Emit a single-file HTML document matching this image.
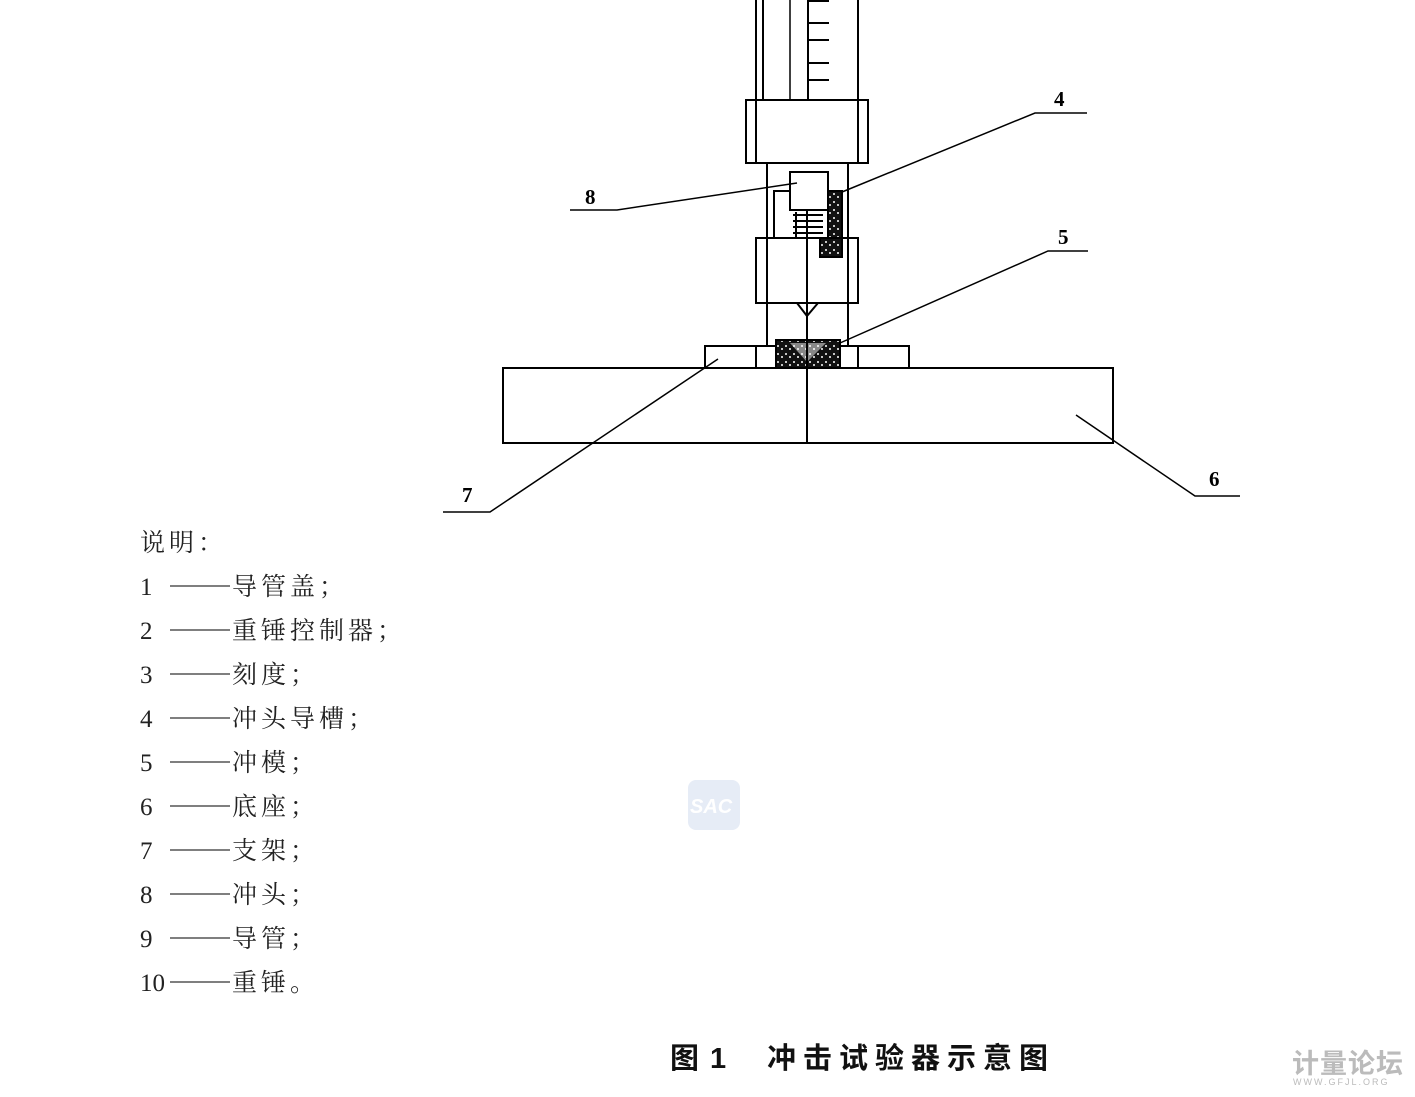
<!DOCTYPE html>
<html><head><meta charset="utf-8"><style>
html,body{margin:0;padding:0;background:#fff;width:1415px;height:1097px;overflow:hidden}
svg{display:block}
.s{font-family:"Liberation Serif","Noto Serif CJK SC",serif;font-size:25px;fill:#222}
.c{font-family:"Liberation Sans","Noto Sans CJK SC",sans-serif;font-size:29px;font-weight:bold;fill:#111}
.n{font-family:"Liberation Serif","Noto Serif CJK SC",serif;font-size:21px;fill:#000;font-weight:bold}
</style></head><body>
<svg width="1415" height="1097" viewBox="0 0 1415 1097" xmlns="http://www.w3.org/2000/svg">
<defs>
<pattern id="dots" width="8" height="8" patternUnits="userSpaceOnUse">
<rect width="8" height="8" fill="#111"/><circle cx="2" cy="2" r="1" fill="#fff"/><circle cx="6" cy="5" r="1" fill="#fff"/>
</pattern>
</defs>
<g stroke="#000" stroke-width="2" fill="none">
<line x1="756" y1="0" x2="756" y2="100"/>
<line x1="763" y1="0" x2="763" y2="100"/>
<line x1="790" y1="0" x2="790" y2="100" stroke-width="1.5"/>
<line x1="808" y1="0" x2="808" y2="100"/>
<line x1="858" y1="0" x2="858" y2="100"/>
<line x1="808" y1="1" x2="829" y2="1"/>
<line x1="808" y1="23" x2="829" y2="23"/>
<line x1="808" y1="40" x2="829" y2="40"/>
<line x1="808" y1="63" x2="829" y2="63"/>
<line x1="808" y1="80" x2="829" y2="80"/>
<rect x="746" y="100" width="122" height="63"/>
<line x1="756" y1="100" x2="756" y2="163"/>
<line x1="858" y1="100" x2="858" y2="163"/>
<line x1="767" y1="163" x2="767" y2="346"/>
<line x1="848" y1="163" x2="848" y2="346"/>
<rect x="790" y="172" width="38" height="38"/>
<polyline points="774,238 774,191 790,191"/>
<rect x="828" y="191" width="14" height="47" fill="url(#dots)"/>
<rect x="820" y="238" width="22" height="19" fill="url(#dots)"/>
<g stroke-width="2">
<line x1="793" y1="215" x2="823" y2="215"/>
<line x1="793" y1="221" x2="823" y2="221"/>
<line x1="793" y1="227" x2="823" y2="227"/>
<line x1="793" y1="233" x2="823" y2="233"/>
<line x1="796" y1="212" x2="796" y2="238"/>
</g>
<rect x="756" y="238" width="102" height="65"/>
<line x1="767" y1="238" x2="767" y2="303"/>
<polyline points="797,303 807,316 818,303"/>
<rect x="705" y="346" width="204" height="22"/>
<line x1="756" y1="346" x2="756" y2="368"/>
<line x1="858" y1="346" x2="858" y2="368"/>
<rect x="776" y="340" width="64" height="28" fill="url(#dots)"/>
<polygon points="790,343 807,362 826,343" fill="#fff" stroke="none" opacity="0.5"/>
<rect x="503" y="368" width="610" height="75"/>
<line x1="807" y1="210" x2="807" y2="443"/>
</g>
<g stroke="#000" stroke-width="1.5" fill="none">
<polyline points="570,210 617,210 797,183"/>
<polyline points="1087,113 1035,113 842,192"/>
<polyline points="1088,251 1048,251 840,343"/>
<polyline points="443,512 490,512 718,359"/>
<polyline points="1240,496 1195,496 1076,415"/>
</g>
<text class="n" x="585" y="204">8</text>
<text class="n" x="1054" y="106">4</text>
<text class="n" x="1058" y="244">5</text>
<text class="n" x="462" y="502">7</text>
<text class="n" x="1209" y="486">6</text>
<g class="s" letter-spacing="4">
<text x="140" y="551">说明：</text>
<text x="140" y="595">1</text><text x="232" y="595">导管盖；</text>
<text x="140" y="639">2</text><text x="232" y="639">重锤控制器；</text>
<text x="140" y="683">3</text><text x="232" y="683">刻度；</text>
<text x="140" y="727">4</text><text x="232" y="727">冲头导槽；</text>
<text x="140" y="771">5</text><text x="232" y="771">冲模；</text>
<text x="140" y="815">6</text><text x="232" y="815">底座；</text>
<text x="140" y="859">7</text><text x="232" y="859">支架；</text>
<text x="140" y="903">8</text><text x="232" y="903">冲头；</text>
<text x="140" y="947">9</text><text x="232" y="947">导管；</text>
<text x="140" y="991" letter-spacing="0">10</text><text x="232" y="991">重锤。</text>
</g>
<g stroke="#333" stroke-width="1.3">
<line x1="170" y1="586" x2="230" y2="586"/>
<line x1="170" y1="630" x2="230" y2="630"/>
<line x1="170" y1="674" x2="230" y2="674"/>
<line x1="170" y1="718" x2="230" y2="718"/>
<line x1="170" y1="762" x2="230" y2="762"/>
<line x1="170" y1="806" x2="230" y2="806"/>
<line x1="170" y1="850" x2="230" y2="850"/>
<line x1="170" y1="894" x2="230" y2="894"/>
<line x1="170" y1="938" x2="230" y2="938"/>
<line x1="170" y1="982" x2="230" y2="982"/>
</g>
<rect x="688" y="780" width="52" height="50" rx="8" fill="#e6ecf6"/>
<text x="690" y="813" font-family="Liberation Sans,sans-serif" font-size="20" font-style="italic" font-weight="bold" fill="#fff">SAC</text>
<text class="c" x="670" y="1068">图</text>
<text class="c" x="710" y="1068">1</text>
<text class="c" x="767" y="1068" letter-spacing="7">冲击试验器示意图</text>
<text x="1292" y="1073" font-family="Liberation Sans,'Noto Sans CJK SC',sans-serif" font-size="27" font-weight="bold" fill="#bbb" letter-spacing="1">计量论坛</text>
<text x="1293" y="1085" font-family="Liberation Sans,sans-serif" font-size="9" fill="#bbb" letter-spacing="2">WWW.GFJL.ORG</text>
</svg>
</body></html>
